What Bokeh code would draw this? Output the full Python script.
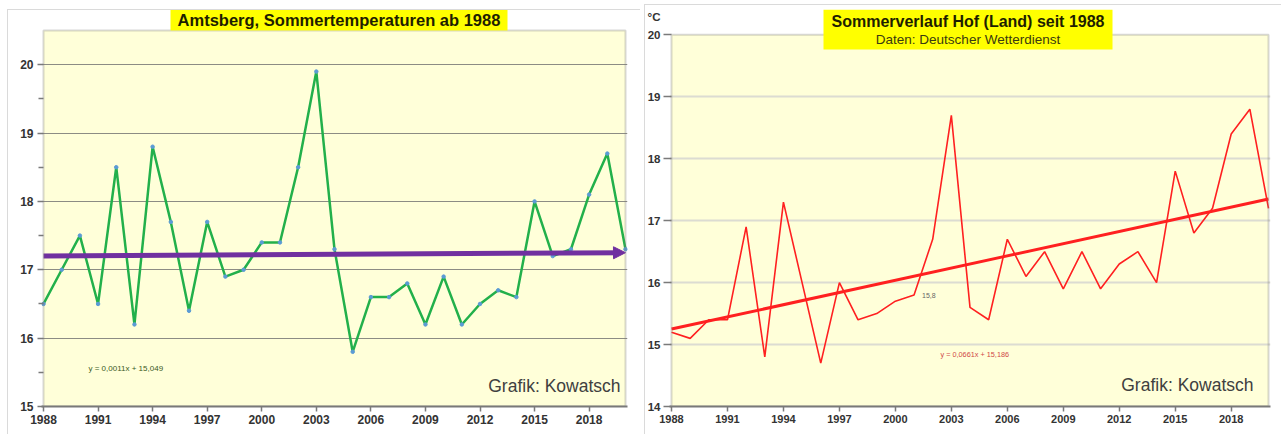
from bokeh.plotting import figure
from bokeh.layouts import row
from bokeh.models import Range1d, FixedTicker, Label, BoxAnnotation, Arrow, NormalHead
from bokeh.embed import file_html
from bokeh.resources import INLINE

# ---------------- data ----------------
years = list(range(1988, 2021))
tick_years = [1988, 1991, 1994, 1997, 2000, 2003, 2006, 2009, 2012, 2015, 2018]

amtsberg_temp = [16.5, 17.0, 17.5, 16.5, 18.5, 16.2, 18.8, 17.7, 16.4, 17.7,
                 16.9, 17.0, 17.4, 17.4, 18.5, 19.9, 17.3, 15.8, 16.6, 16.6,
                 16.8, 16.2, 16.9, 16.2, 16.5, 16.7, 16.6, 18.0, 17.2, 17.3,
                 18.1, 18.7, 17.3]
amtsberg_trend_years = [1988, 2020]
amtsberg_trend = [17.2, 17.25]
amtsberg_yticks = [15, 16, 17, 18, 19, 20]
amtsberg_yminor = [15.5, 16.5, 17.5, 18.5, 19.5]
amtsberg_grid = [16, 17, 18, 19, 20]

hof_temp = [15.2, 15.1, 15.4, 15.4, 16.9, 14.8, 17.3, 16.0, 14.7, 16.0,
            15.4, 15.5, 15.7, 15.8, 16.7, 18.7, 15.6, 15.4, 16.7, 16.1,
            16.5, 15.9, 16.5, 15.9, 16.3, 16.5, 16.0, 17.8, 16.8, 17.2,
            18.4, 18.8, 17.2]
hof_trend_years = [1988, 2020]
hof_trend = [15.25, 17.35]
hof_yticks = [14, 15, 16, 17, 18, 19, 20]
hof_grid = [15, 16, 17, 18, 19]
hof_unit_label = "°C"
hof_point_label_year = 2001
hof_point_label_value = 15.8

FONT = "Liberation Sans"
YELLOW_BG = "#FFFFD9"
TITLE_YELLOW = "#FFFF00"
FRAME_GRAY = "#7a7a7a"


def panel_border_css(left, top):
    return (":host::after { content: ''; position: absolute; "
            f"left: {left}px; top: {top}px; right: 0; bottom: 0; "
            "border-left: 1px solid #dadada; border-top: 1px solid #dadada; "
            "pointer-events: none; z-index: 100; }")


def make_fig(fig_x, width, height, frame, box, xdata, ydata):
    """frame = (left, right, top, bottom) page px of the drawing area,
    box = (left, right, top, bottom) page px of the yellow plot area,
    whose edges correspond to xdata / ydata."""
    fl, fr, ft, fb = frame
    bl, br, bt, bb = box
    sx = (br - bl) / (xdata[1] - xdata[0])
    sy = (bb - bt) / (ydata[1] - ydata[0])
    xr = Range1d(xdata[0] - (bl - fl) / sx, xdata[1] + (fr - br) / sx)
    yr = Range1d(ydata[0] - (fb - bb) / sy, ydata[1] + (bt - ft) / sy)
    p = figure(width=width, height=height, x_range=xr, y_range=yr,
               output_backend="svg", toolbar_location=None,
               min_border_left=fl - fig_x, min_border_right=fig_x + width - fr,
               min_border_top=ft, min_border_bottom=height - fb,
               background_fill_color="white", border_fill_color="white",
               outline_line_color=None)
    return p, sx, sy


def style_axes(p, xfs, yfs):
    p.xaxis.ticker = FixedTicker(ticks=tick_years)
    p.xaxis.major_label_overrides = {y: str(y) for y in tick_years}
    for ax in (p.xaxis, p.yaxis):
        ax.major_tick_line_color = FRAME_GRAY
        ax.major_tick_line_width = 1.5
        ax.minor_tick_line_color = FRAME_GRAY
        ax.minor_tick_line_width = 1.5
        ax.major_label_text_font = FONT
        ax.major_label_text_font_style = "bold"
        ax.major_label_text_color = "#333333"
    p.xaxis.axis_line_color = FRAME_GRAY
    p.xaxis.axis_line_width = 2
    p.xaxis.major_tick_in = 0
    p.xaxis.major_tick_out = 5
    p.xaxis.minor_tick_line_color = None
    p.yaxis.axis_line_color = None
    p.xaxis.major_label_text_font_size = xfs
    p.yaxis.major_label_text_font_size = yfs
    p.xaxis.major_label_standoff = 3
    p.xgrid.grid_line_color = None


def plot_area(p, top_value):
    p.add_layout(BoxAnnotation(left=1988, right=2020, top=top_value,
                               fill_color=YELLOW_BG, fill_alpha=1.0,
                               line_color=None, level="image"))


def plot_outline(p, top_value):
    p.add_layout(BoxAnnotation(left=1988, right=2020, top=top_value,
                               fill_alpha=0, line_color=FRAME_GRAY,
                               line_width=2))


# ---------------- left chart: Amtsberg ----------------
p1, sx1, sy1 = make_fig(0, 640, 434, frame=(41, 627, 9, 406),
                        box=(43, 625, 30, 406), xdata=(1988, 2020),
                        ydata=(15, 20.5))
p1.stylesheets = [panel_border_css(7, 9)]
style_axes(p1, "12px", "12px")
p1.yaxis.ticker = FixedTicker(ticks=amtsberg_yticks, minor_ticks=amtsberg_yminor)
p1.yaxis.major_label_overrides = {t: str(t) for t in amtsberg_yticks}
p1.yaxis.major_tick_in = 2
p1.yaxis.major_tick_out = 4
p1.yaxis.minor_tick_in = 2
p1.yaxis.minor_tick_out = 3
p1.yaxis.major_label_standoff = 4
p1.ygrid.ticker = FixedTicker(ticks=amtsberg_grid)
p1.ygrid.grid_line_color = "#8c8c84"
p1.ygrid.grid_line_width = 1

plot_area(p1, 20.5)
p1.line(years, amtsberg_temp, line_color="#22B04B", line_width=2.5)
p1.scatter(years, amtsberg_temp, size=3.5, fill_color="#5B9BD5",
           line_color="#5B9BD5")
p1.add_layout(Arrow(end=NormalHead(size=12, fill_color="#7030A0",
                                   line_color="#7030A0"),
                    x_start=amtsberg_trend_years[0], y_start=amtsberg_trend[0],
                    x_end=amtsberg_trend_years[1], y_end=amtsberg_trend[1],
                    line_color="#7030A0", line_width=5))
plot_outline(p1, 20.5)

p1.add_layout(BoxAnnotation(left=1988 + (170 - 43) / sx1, right=1988 + (507 - 43) / sx1,
                            bottom=20.5, fill_color=TITLE_YELLOW, fill_alpha=1.0,
                            line_color=None))
p1.add_layout(Label(x=1988 + (338.5 - 43) / sx1, y=20.5, y_offset=10.5,
                    text="Amtsberg, Sommertemperaturen ab 1988",
                    text_align="center", text_baseline="middle",
                    text_font=FONT, text_font_style="bold",
                    text_font_size="16.5px", text_color="#1e1e00"))
p1.add_layout(Label(x=1988 + (88 - 43) / sx1, y=15 + (406 - 368) / sy1,
                    text="y = 0,0011x + 15,049",
                    text_align="left", text_baseline="middle",
                    text_font=FONT, text_font_size="8px",
                    text_color="#3b5a1e"))
p1.add_layout(Label(x=2020, x_offset=-5, y=15, y_offset=21,
                    text="Grafik: Kowatsch", text_align="right",
                    text_baseline="middle", text_font=FONT,
                    text_font_size="17.5px", text_color="#404040"))

# ---------------- right chart: Hof ----------------
p2, sx2, sy2 = make_fig(640, 641, 434, frame=(669, 1270, 4, 411),
                        box=(671, 1268, 30, 411), xdata=(1988, 2020),
                        ydata=(14, 20))
p2.stylesheets = [panel_border_css(4, 4)]
style_axes(p2, "11px", "11.5px")
unit_tick = 20 + (30 - 12) / sy2
p2.yaxis.ticker = FixedTicker(ticks=hof_yticks + [unit_tick], minor_ticks=hof_yticks)
overrides = {t: str(t) for t in hof_yticks}
overrides[unit_tick] = hof_unit_label
p2.yaxis.major_label_overrides = overrides
p2.yaxis.major_tick_line_color = None
p2.yaxis.major_tick_in = 0
p2.yaxis.major_tick_out = 6
p2.yaxis.minor_tick_in = 2
p2.yaxis.minor_tick_out = 6
p2.yaxis.major_label_standoff = 3
p2.ygrid.ticker = FixedTicker(ticks=hof_grid)
p2.ygrid.grid_line_color = "#dcdcd2"
p2.ygrid.grid_line_width = 2

plot_area(p2, 20)
p2.line(hof_trend_years, hof_trend, line_color="#FF2020", line_width=3)
p2.line(years, hof_temp, line_color="#FF2020", line_width=1.6)
plot_outline(p2, 20)

p2.add_layout(BoxAnnotation(left=1988 + (823 - 671) / sx2, right=1988 + (1112 - 671) / sx2,
                            bottom=20 - (45 - 30) / sy2,
                            fill_color=TITLE_YELLOW, fill_alpha=1.0,
                            line_color=None))
title_x2 = 1988 + (967.5 - 671) / sx2
p2.add_layout(Label(x=title_x2, y=20, y_offset=13,
                    text="Sommerverlauf Hof (Land) seit 1988",
                    text_align="center", text_baseline="middle",
                    text_font=FONT, text_font_style="bold",
                    text_font_size="16px", text_color="#1e1e00"))
p2.add_layout(Label(x=title_x2, y=20, y_offset=-5,
                    text="Daten: Deutscher Wetterdienst",
                    text_align="center", text_baseline="middle",
                    text_font=FONT, text_font_size="13.5px",
                    text_color="#3a3a10"))
p2.add_layout(Label(x=hof_point_label_year, y=hof_point_label_value, x_offset=8,
                    text="15,8", text_align="left", text_baseline="middle",
                    text_font=FONT, text_font_size="7px",
                    text_color="#666666"))
p2.add_layout(Label(x=1988 + (940 - 671) / sx2, y=14 + (411 - 358) / sy2,
                    text="y = 0,0661x + 15,186",
                    text_align="left", text_baseline="middle",
                    text_font=FONT, text_font_size="7.3px",
                    text_color="#d04848"))
p2.add_layout(Label(x=2020, x_offset=-15, y=14, y_offset=22,
                    text="Grafik: Kowatsch", text_align="right",
                    text_baseline="middle", text_font=FONT,
                    text_font_size="17.5px", text_color="#404040"))

layout = row(p1, p2)
open("out.html", "w").write(file_html(layout, INLINE))
